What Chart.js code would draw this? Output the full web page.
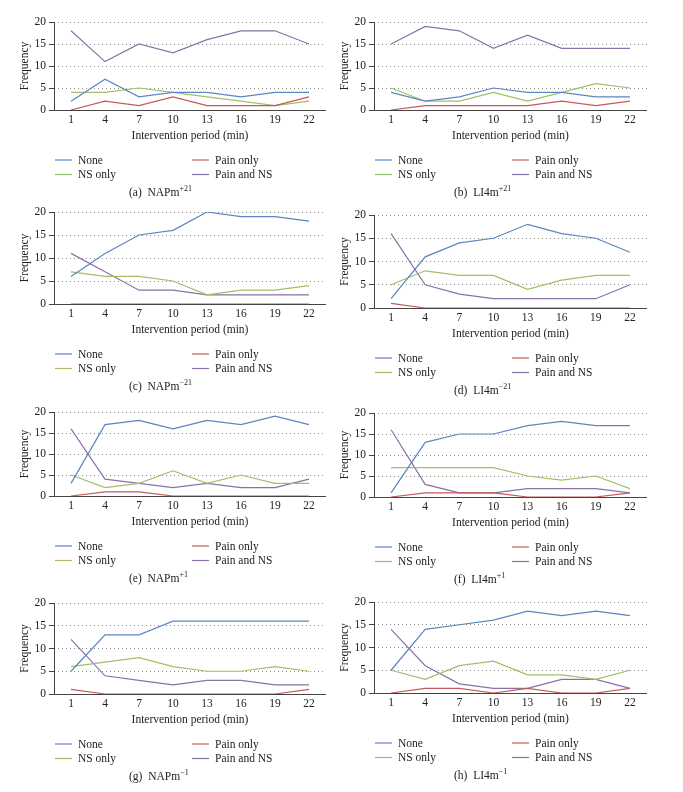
<!DOCTYPE html>
<html>
<head>
<meta charset="utf-8">
<script src="https://cdn.jsdelivr.net/npm/chart.js@4/dist/chart.umd.min.js"></script>
<style>
  body { margin: 0; background: #fff; }
  #page { position: relative; width: 683px; height: 792px; overflow: hidden; }
  canvas { position: absolute; }
  .cap { position: absolute; font-family: 'Liberation Serif', serif; font-size: 11.5px; color: #222; white-space: nowrap; }
  .cap sup { font-size: 8px; vertical-align: 5px; line-height: 0; }
</style>
</head>
<body>
<div id="page"></div>
<script>
//Shared labels
var periods = ['1', '4', '7', '10', '13', '16', '19', '22'];
var seriesNames = ['None', 'Pain only', 'NS only', 'Pain and NS'];
var seriesColors = ['#5b86bf', '#c65a5a', '#a2bf67', '#8a72a8'];
var yTicks = [0, 5, 10, 15, 20];

//(a) NAPm+21
var aNone = [2, 7, 3, 4, 4, 3, 4, 4];
var aPain = [0, 2, 1, 3, 1, 1, 1, 3];
var aNS = [4, 4, 5, 4, 3, 2, 1, 2];
var aPainNS = [18, 11, 15, 13, 16, 18, 18, 15];
//(b) LI4m+21
var bNone = [4, 2, 3, 5, 4, 4, 3, 3];
var bPain = [0, 1, 1, 1, 1, 2, 1, 2];
var bNS = [5, 2, 2, 4, 2, 4, 6, 5];
var bPainNS = [15, 19, 18, 14, 17, 14, 14, 14];
//(c) NAPm-21
var cNone = [6, 11, 15, 16, 20, 19, 19, 18];
var cPain = [0, 0, 0, 0, 0, 0, 0, 0];
var cNS = [7, 6, 6, 5, 2, 3, 3, 4];
var cPainNS = [11, 7, 3, 3, 2, 2, 2, 2];
//(d) LI4m-21
var dNone = [2, 11, 14, 15, 18, 16, 15, 12];
var dPain = [1, 0, 0, 0, 0, 0, 0, 0];
var dNS = [5, 8, 7, 7, 4, 6, 7, 7];
var dPainNS = [16, 5, 3, 2, 2, 2, 2, 5];
//(e) NAPm+1
var eNone = [3, 17, 18, 16, 18, 17, 19, 17];
var ePain = [0, 1, 1, 0, 0, 0, 0, 0];
var eNS = [5, 2, 3, 6, 3, 5, 3, 3];
var ePainNS = [16, 4, 3, 2, 3, 2, 2, 4];
//(f) LI4m+1
var fNone = [1, 13, 15, 15, 17, 18, 17, 17];
var fPain = [0, 1, 1, 1, 0, 0, 0, 1];
var fNS = [7, 7, 7, 7, 5, 4, 5, 2];
var fPainNS = [16, 3, 1, 1, 2, 2, 2, 1];
//(g) NAPm-1
var gNone = [5, 13, 13, 16, 16, 16, 16, 16];
var gPain = [1, 0, 0, 0, 0, 0, 0, 1];
var gNS = [6, 7, 8, 6, 5, 5, 6, 5];
var gPainNS = [12, 4, 3, 2, 3, 3, 2, 2];
//(h) LI4m-1
var hNone = [5, 14, 15, 16, 18, 17, 18, 17];
var hPain = [0, 1, 1, 0, 1, 0, 0, 1];
var hNS = [5, 3, 6, 7, 4, 4, 3, 5];
var hPainNS = [14, 6, 2, 1, 1, 3, 3, 1];

var captions = ['(a)&nbsp; NAPm<sup>+21</sup>', '(b)&nbsp; LI4m<sup>+21</sup>', '(c)&nbsp; NAPm<sup>\u221221</sup>', '(d)&nbsp; LI4m<sup>\u221221</sup>',
  '(e)&nbsp; NAPm<sup>+1</sup>', '(f)&nbsp; LI4m<sup>+1</sup>', '(g)&nbsp; NAPm<sup>\u22121</sup>', '(h)&nbsp; LI4m<sup>\u22121</sup>'];
var panelData = [
  [aNone, aPain, aNS, aPainNS], [bNone, bPain, bNS, bPainNS],
  [cNone, cPain, cNS, cPainNS], [dNone, dPain, dNS, dPainNS],
  [eNone, ePain, eNS, ePainNS], [fNone, fPain, fNS, fPainNS],
  [gNone, gPain, gNS, gPainNS], [hNone, hPain, hNS, hPainNS]
];

//where the 20 line and the 0 line sit on the page
var plotTop = [22, 22, 212, 215, 412, 413, 603, 602];
var plotBottom = [110, 110, 304, 308, 496, 497, 694, 693];

var serif = 'Liberation Serif';
var page = document.getElementById('page');

//two column legend under each chart
var legendPlugin = {
  id: 'twoColLegend',
  afterDraw: function(chart) {
    var ctx = chart.ctx;
    var area = chart.chartArea;
    ctx.save();
    ctx.setLineDash([]);
    ctx.font = '11.5px ' + serif;
    ctx.textBaseline = 'middle';
    ctx.fillStyle = '#222';
    chart.data.datasets.forEach(function(ds, i) {
      var x = area.left + (i % 2) * 137;
      var y = area.bottom + 50 + Math.floor(i / 2) * 14.5;
      ctx.strokeStyle = ds.borderColor;
      ctx.lineWidth = 1.2;
      ctx.beginPath();
      ctx.moveTo(x + 1, y);
      ctx.lineTo(x + 18, y);
      ctx.stroke();
      ctx.fillText(ds.label, x + 24, y + 0.5);
    });
    ctx.restore();
  }
};

//solid axis lines under the data, over the dotted grid
var axisPlugin = {
  id: 'solidAxes',
  beforeDatasetsDraw: function(chart) {
    var ctx = chart.ctx;
    var area = chart.chartArea;
    ctx.save();
    ctx.setLineDash([]);
    ctx.strokeStyle = '#444';
    ctx.lineWidth = 1;
    ctx.beginPath();
    ctx.moveTo(area.left + 0.5, area.top);
    ctx.lineTo(area.left + 0.5, area.bottom);
    ctx.moveTo(area.left, area.bottom + 0.5);
    ctx.lineTo(area.right, area.bottom + 0.5);
    ctx.stroke();
    ctx.restore();
  }
};

function makePanel(i) {
  var rightCol = i % 2 === 1;
  var canvasLeft = rightCol ? 330 : 0;
  var canvasWidth = rightCol ? 353 : 340;
  var axisWidth = rightCol ? 44 : 54;
  var plotRight = rightCol ? 647 : 326;
  var plotH = plotBottom[i] - plotTop[i];
  var canvasTop = plotTop[i] - 10;
  var canvasHeight = 10 + plotH + 100;

  var canvas = document.createElement('canvas');
  canvas.style.left = canvasLeft + 'px';
  canvas.style.top = canvasTop + 'px';
  canvas.style.width = canvasWidth + 'px';
  canvas.style.height = canvasHeight + 'px';
  canvas.width = canvasWidth;
  canvas.height = canvasHeight;
  page.appendChild(canvas);

  var datasets = [];
  for (var s = 0; s < seriesNames.length; s++) {
    datasets.push({
      label: seriesNames[s],
      data: panelData[i][s],
      borderColor: seriesColors[s],
      backgroundColor: seriesColors[s],
      borderWidth: 1.2,
      pointRadius: 0,
      tension: 0,
      fill: false
    });
  }

  new Chart(canvas.getContext('2d'), {
    type: 'line',
    data: { labels: periods, datasets: datasets },
    options: {
      responsive: false,
      animation: false,
      layout: { padding: { top: 10, left: 0, right: canvasLeft + canvasWidth - plotRight, bottom: 67 } },
      plugins: { legend: { display: false }, tooltip: { enabled: false } },
      scales: {
        x: {
          offset: true,
          grid: { display: false, drawTicks: false },
          border: { display: false },
          ticks: { color: '#222', padding: 3, font: { family: serif, size: 11.5 } },
          title: { display: true, text: 'Intervention period (min)', color: '#222', padding: { top: 0, bottom: 0 }, font: { family: serif, size: 11.5 } },
          afterFit: function(scale) { scale.height = 33; }
        },
        y: {
          min: 0,
          max: 20,
          afterBuildTicks: function(scale) {
            scale.ticks = yTicks.map(function(v) { return { value: v }; });
          },
          grid: {
            color: function(c) { return c.tick && c.tick.value === 0 ? 'rgba(0,0,0,0)' : '#8c8c8c'; },
            drawTicks: true,
            tickLength: 5,
            tickColor: '#444',
            tickBorderDash: [1, 0]
          },
          border: { display: false, dash: [1, 3] },
          ticks: { color: '#222', padding: 3, font: { family: serif, size: 11.5 } },
          title: { display: true, text: 'Frequency', color: '#222', padding: { top: rightCol ? 8 : 18, bottom: 0 }, font: { family: serif, size: 11.5 } },
          afterFit: function(scale) { scale.width = axisWidth; }
        }
      }
    },
    plugins: [axisPlugin, legendPlugin]
  });

  var cap = document.createElement('div');
  cap.className = 'cap';
  cap.innerHTML = captions[i];
  cap.style.left = (rightCol ? 454 : 129) + 'px';
  cap.style.top = (plotBottom[i] + 76) + 'px';
  page.appendChild(cap);
}

for (var i = 0; i < 8; i++) {
  makePanel(i);
}
</script>
</body>
</html>
